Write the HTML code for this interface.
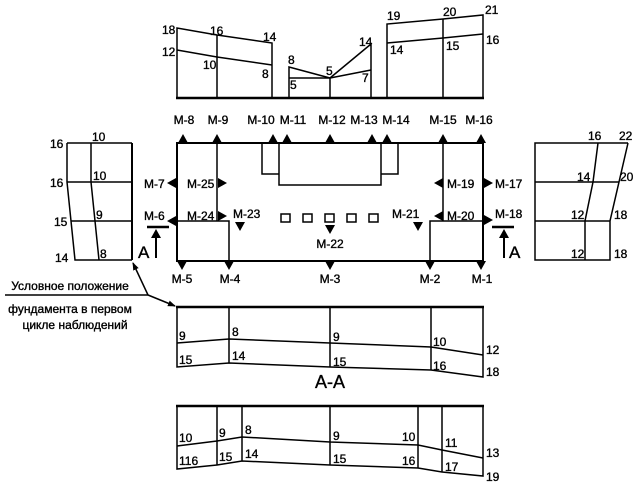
<!DOCTYPE html>
<html><head><meta charset="utf-8"><style>
html,body{margin:0;padding:0;background:#fff;}
svg{display:block;}
text{font-family:"Liberation Sans",Arial,sans-serif;font-size:12px;fill:#000;stroke:#000;stroke-width:0.35;}
</style></head><body>
<svg width="638" height="484" viewBox="0 0 638 484" xmlns="http://www.w3.org/2000/svg">
<defs>
<marker id="ar" markerWidth="8" markerHeight="8" refX="7" refY="4" orient="auto" markerUnits="userSpaceOnUse"><path d="M0,1 L8,4 L0,7 z" fill="#000"/></marker>
</defs>
<g fill="none" stroke="#000" stroke-width="1.5">
<line x1="176" y1="98" x2="484" y2="98" stroke-width="2.5"/>
<polyline points="177,98 177,28 217,35 272,43 272,98"/>
<line x1="217" y1="35" x2="217" y2="98"/>
<polyline points="177,50 217,57 272,65"/>
<polyline points="289,98 289,67 330,78 371,44 371,98"/>
<line x1="289" y1="78" x2="330" y2="78"/>
<line x1="330" y1="78" x2="371" y2="70"/>
<line x1="330" y1="78" x2="330" y2="98"/>
<polyline points="387,98 387,24 443,19 483,15 483,98"/>
<line x1="443" y1="19" x2="443" y2="98"/>
<polyline points="387,43 443,38 483,34"/>
<rect x="177" y="143" width="306" height="118" stroke-width="2"/>
<polyline points="262,143 262,174 279,174"/>
<polyline points="279,143 279,185 381,185 381,143"/>
<polyline points="381,174 398,174 398,143"/>
<line x1="217" y1="143" x2="217" y2="221"/>
<polyline points="177,221 229,221 229,261"/>
<line x1="443" y1="143" x2="443" y2="221"/>
<polyline points="483,221 430,221 430,261"/>
<rect x="281" y="214" width="9" height="8"/>
<rect x="303" y="214" width="9" height="8"/>
<rect x="325" y="214" width="9" height="8"/>
<rect x="347" y="214" width="9" height="8"/>
<rect x="369" y="214" width="9" height="8"/>
<line x1="147" y1="227" x2="169" y2="227" stroke-width="2.5"/>
<line x1="156" y1="258" x2="156" y2="236" stroke-width="2"/>
<line x1="492" y1="227" x2="514" y2="227" stroke-width="2.5"/>
<line x1="504" y1="258" x2="504" y2="236" stroke-width="2"/>
<polyline points="67,143 132,143"/>
<line x1="132" y1="143" x2="132" y2="260" stroke-width="2"/>
<polyline points="67,143 67,182 75,260 132,260"/>
<polyline points="91,143 91,182 99,260"/>
<line x1="67" y1="182" x2="132" y2="182"/>
<line x1="71" y1="221" x2="132" y2="221"/>
<polyline points="628,143 535,143 535,260 610,260 610,221 628,143"/>
<polyline points="598,143 593,182 585,221 585,260"/>
<line x1="535" y1="182" x2="619" y2="182"/>
<line x1="535" y1="221" x2="610" y2="221"/>
<line x1="5" y1="295" x2="148" y2="295"/>
<line x1="148" y1="295" x2="133" y2="263" marker-end="url(#ar)"/>
<line x1="148" y1="295" x2="175" y2="306" marker-end="url(#ar)"/>
<line x1="176" y1="307" x2="484" y2="307" stroke-width="2.5"/>
<polyline points="177,307 177,367 229,363 330,367 431,370 483,377 483,307"/>
<polyline points="177,343 229,339 330,343 431,347 483,355"/>
<line x1="229" y1="307" x2="229" y2="363"/>
<line x1="330" y1="307" x2="330" y2="367"/>
<line x1="431" y1="307" x2="431" y2="370"/>
<line x1="176" y1="406" x2="484" y2="406" stroke-width="2.5"/>
<polyline points="177,406 177,469 217,465 242,461 330,465 418,468 442,472 483,476 483,406"/>
<polyline points="177,446 217,441 242,437 330,442 418,445 442,450 483,458"/>
<line x1="217" y1="406" x2="217" y2="465"/>
<line x1="242" y1="406" x2="242" y2="461"/>
<line x1="330" y1="406" x2="330" y2="465"/>
<line x1="418" y1="406" x2="418" y2="468"/>
<line x1="442" y1="406" x2="442" y2="472"/>
</g>
<g fill="#000">
<path d="M178,143 l5,-9 l5,9z M212,143 l5,-9 l5,9z M268,143 l5,-9 l5,9z M282,143 l5,-9 l5,9z M325,143 l5,-9 l5,9z M367,143 l5,-9 l5,9z M382,143 l5,-9 l5,9z M438,143 l5,-9 l5,9z M476,143 l5,-9 l5,9z"/>
<path d="M177,261 l5,9 l5,-9z M224,261 l5,9 l5,-9z M325,261 l5,9 l5,-9z M425,261 l5,9 l5,-9z M476,261 l5,9 l5,-9z"/>
<path d="M176,178 l-9,5 l9,5z M218,178 l9,5 l-9,5z M176,216 l-9,5 l9,5z M218,211 l9,5 l-9,5z M235,222 l5,9 l5,-9z M325,225 l5,9 l5,-9z M413,222 l5,9 l5,-9z M443,178 l-9,5 l9,5z M484,178 l9,5 l-9,5z M443,211 l-9,5 l9,5z M484,215 l9,5 l-9,5z"/>
<path d="M151,238 l5,-9 l5,9z M499,238 l5,-9 l5,9z"/>
</g>
<g>
<text x="162" y="34">18</text><text x="210" y="35">16</text><text x="263" y="41">14</text>
<text x="162" y="56">12</text><text x="203" y="69">10</text><text x="262" y="78">8</text>
<text x="288" y="64">8</text><text x="290" y="89">5</text><text x="326" y="75">5</text>
<text x="359" y="46">14</text><text x="362" y="82">7</text>
<text x="387" y="20">19</text><text x="443" y="16">20</text><text x="485" y="14">21</text>
<text x="390" y="54">14</text><text x="446" y="50">15</text><text x="486" y="44">16</text>
<g text-anchor="middle">
<text x="184" y="124">М-8</text><text x="218" y="124">М-9</text><text x="261" y="124">М-10</text><text x="293" y="124">М-11</text><text x="332" y="124">М-12</text><text x="364" y="124">М-13</text><text x="396" y="124">М-14</text><text x="443" y="124">М-15</text><text x="479" y="124">М-16</text>
<text x="182" y="283">М-5</text><text x="230" y="283">М-4</text><text x="330" y="283">М-3</text><text x="430" y="283">М-2</text><text x="482" y="283">М-1</text>
<text x="330" y="248">М-22</text>
</g>
<text x="144" y="188">М-7</text><text x="187" y="188">М-25</text>
<text x="144" y="220">М-6</text><text x="187" y="220">М-24</text><text x="233" y="218">М-23</text>
<text x="447" y="188">М-19</text><text x="495" y="188">М-17</text>
<text x="447" y="220">М-20</text><text x="392" y="218">М-21</text><text x="495" y="218">М-18</text>
<text x="138" y="258" style="font-size:17px">А</text>
<text x="509" y="258" style="font-size:17px">А</text>
<text x="50" y="148">16</text><text x="92" y="141">10</text><text x="50" y="187">16</text><text x="93" y="180">10</text>
<text x="54" y="226">15</text><text x="96" y="219">9</text><text x="55" y="262">14</text><text x="100" y="258">8</text>
<text x="588" y="140">16</text><text x="619" y="140">22</text><text x="577" y="181">14</text><text x="620" y="181">20</text>
<text x="571" y="219">12</text><text x="614" y="219">18</text><text x="571" y="258">12</text><text x="614" y="258">18</text>
<text x="70" y="290" text-anchor="middle">Условное положение</text>
<text x="70" y="313" text-anchor="middle">фундамента в первом</text>
<text x="75" y="329" text-anchor="middle">цикле наблюдений</text>
<text x="179" y="340">9</text><text x="232" y="336">8</text><text x="333" y="341">9</text><text x="433" y="346">10</text><text x="486" y="354">12</text>
<text x="179" y="364">15</text><text x="232" y="360">14</text><text x="333" y="366">15</text><text x="433" y="370">16</text><text x="486" y="376">18</text>
<text x="330" y="388" text-anchor="middle" style="font-size:18px">А-А</text>
<text x="179" y="442">10</text><text x="219" y="437">9</text><text x="245" y="434">8</text><text x="333" y="440">9</text><text x="402" y="441">10</text><text x="445" y="447">11</text><text x="486" y="457">13</text>
<text x="179" y="465">116</text><text x="219" y="461">15</text><text x="245" y="458">14</text><text x="333" y="463">15</text><text x="402" y="465">16</text><text x="445" y="471">17</text><text x="486" y="481">19</text>
</g>
</svg>
</body></html>
